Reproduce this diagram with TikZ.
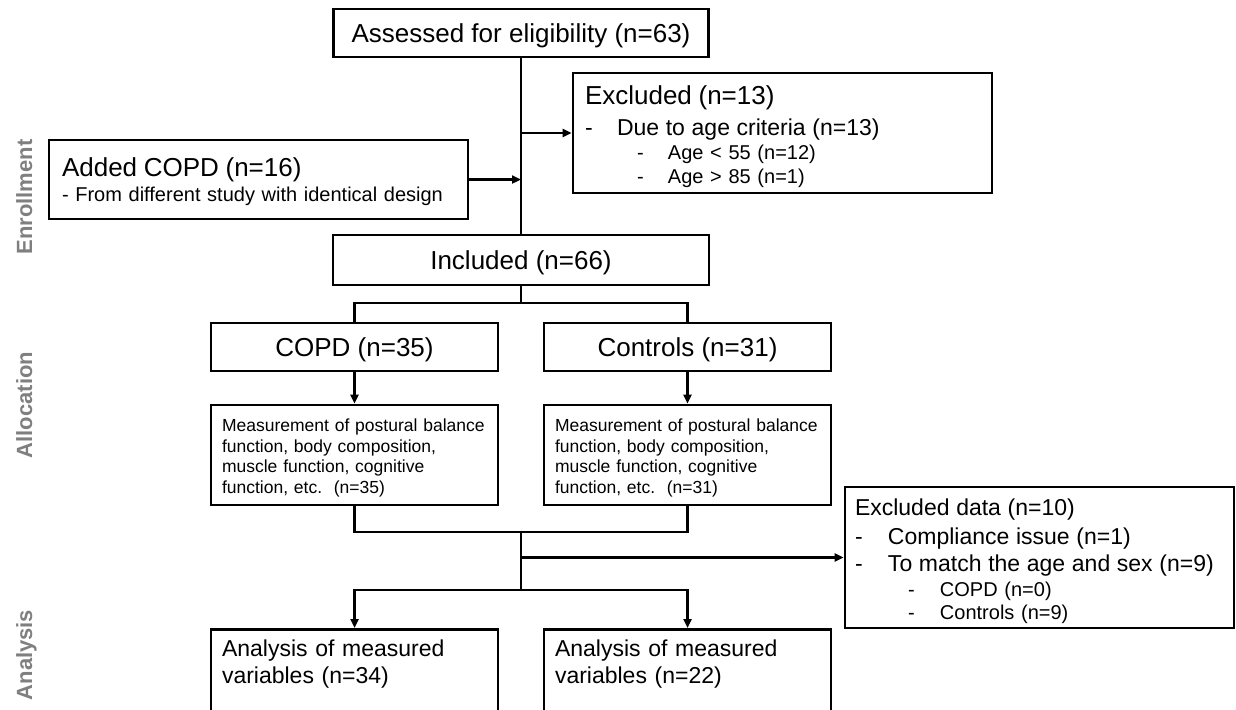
\documentclass[tikz,border=0pt]{standalone}
\usepackage{fontspec}
\setmainfont{Liberation Sans}
\usepackage{tikz}
\usetikzlibrary{arrows.meta}
\definecolor{sidegray}{RGB}{127,127,127}

\begin{document}
\begin{tikzpicture}[x=1pt,y=-1pt,
  box/.style={draw, line width=2.6pt, inner sep=0pt, align=center,
              text height=18.6pt, text depth=0pt, font=\fontsize{26}{31}\selectfont},
  tbox/.style={draw, line width=2.6pt, inner ysep=0pt, align=left},
  conn/.style={line width=2.6pt},
  arr/.style={conn, -{Triangle[length=9pt,width=8pt]}},
  side/.style={text=sidegray, font=\fontsize{22}{26}\selectfont\bfseries, rotate=90, anchor=base}]
  \def\trunk{521}   % x of the main spine
  \def\colL{354.5}  % left column (COPD)
  \def\colR{687.5}  % right column (Controls)
  \def\bw{287}      % width of the column boxes

  \useasboundingbox (0,0) rectangle (1236,709);

  % Phase labels
  \node[side] (enroll) at (32,197) {Enrollment};
  \node[side] (alloc) at (32,405) {Allocation};
  \node[side] (analy) at (32,655) {Analysis};

  % Enrollment
  \node[box, minimum width=375, minimum height=48] (assess) at (\trunk,33)
    {Assessed for eligibility (n=63)};
  \node[tbox, minimum width=419, minimum height=120, inner xsep=12, text width=395,
        font=\fontsize{20}{24}\selectfont] (excl) at (782.5,133)
    {{\fontsize{26}{30}\selectfont\rule{0pt}{27pt}Excluded (n=13)}\\[7pt]
     {\fontsize{23}{27}\selectfont\makebox[32pt][l]{-}Due to age criteria (n=13)}\\
     \hspace*{52pt}\makebox[31pt][l]{-}Age < 55 (n=12)\\
     \hspace*{52pt}\makebox[31pt][l]{-}Age > 85 (n=1)};
  \node[tbox, minimum width=419, minimum height=79, inner xsep=13, text width=393,
        font=\fontsize{20}{25}\selectfont] (added) at (258.5,179.5)
    {{\fontsize{26}{30}\selectfont\rule{0pt}{23pt}Added COPD (n=16)}\\
     - From different study with identical design};
  \node[box, minimum width=376, minimum height=50] (incl) at (\trunk,260)
    {Included (n=66)};

  % Allocation
  \node[box, minimum width=\bw, minimum height=48] (copd) at (\colL,347) {COPD (n=35)};
  \node[box, minimum width=\bw, minimum height=48] (ctrl) at (\colR,347) {Controls (n=31)};
  \node[tbox, minimum width=\bw, minimum height=100, inner xsep=11, text width=265,
        font=\fontsize{17.5}{20.7}\selectfont] (measc) at (\colL,455)
    {\rule{0pt}{18.7pt}Measurement of postural balance\\function, body composition,\\muscle function, cognitive\\function, etc.\ \ (n=35)};
  \node[tbox, minimum width=\bw, minimum height=100, inner xsep=11, text width=265,
        font=\fontsize{17.5}{20.7}\selectfont] (meask) at (\colR,455)
    {\rule{0pt}{18.7pt}Measurement of postural balance\\function, body composition,\\muscle function, cognitive\\function, etc.\ \ (n=31)};

  % Analysis
  \node[tbox, minimum width=389, minimum height=141, inner xsep=10, text width=369,
        font=\fontsize{20}{23}\selectfont] (exdata) at (1039.5,557.5)
    {{\fontsize{23}{27}\selectfont\rule{0pt}{23.7pt}Excluded data (n=10)}\\[5.5pt]
     {\fontsize{23}{27}\selectfont\makebox[33pt][l]{-}Compliance issue (n=1)}\\[4.5pt]
     {\fontsize{23}{27}\selectfont\makebox[33pt][l]{-}To match the age and sex (n=9)}\\[1.5pt]
     \hspace*{53pt}\makebox[32pt][l]{-}COPD (n=0)\\
     \hspace*{53pt}\makebox[32pt][l]{-}Controls (n=9)};
  \node[tbox, anchor=north, minimum width=\bw, inner xsep=11, inner ysep=11, text width=265,
        font=\fontsize{23}{27}\selectfont] (anac) at (\colL,628)
    {Analysis of measured\\variables (n=34)\rule[-60pt]{0pt}{0pt}};
  \node[tbox, anchor=north, minimum width=\bw, inner xsep=11, inner ysep=11, text width=265,
        font=\fontsize{23}{27}\selectfont] (anak) at (\colR,628)
    {Analysis of measured\\variables (n=22)\rule[-60pt]{0pt}{0pt}};

  % Connectors
  \coordinate (split) at (\trunk,303);
  \coordinate (merge) at (\trunk,532);
  \coordinate (fork) at (\trunk,590);

  \draw[conn] (assess) -- (incl);
  \draw[arr] (assess.south |- excl.west) -- (excl.west);
  \draw[arr] (added.east) -- (assess.south |- added.east);
  \draw[conn] (incl) -- (split);
  \draw[conn] (copd.north) |- (split) -| (ctrl.north);
  \draw[arr] (copd) -- (measc);
  \draw[arr] (ctrl) -- (meask);
  \draw[conn] (measc.south) |- (merge) -| (meask.south);
  \draw[conn] (merge) -- (fork);
  \draw[arr] (merge |- exdata.west) -- (exdata.west);
  \draw[arr] (fork) -| (anac.north);
  \draw[arr] (fork) -| (anak.north);
\end{tikzpicture}
\end{document}
